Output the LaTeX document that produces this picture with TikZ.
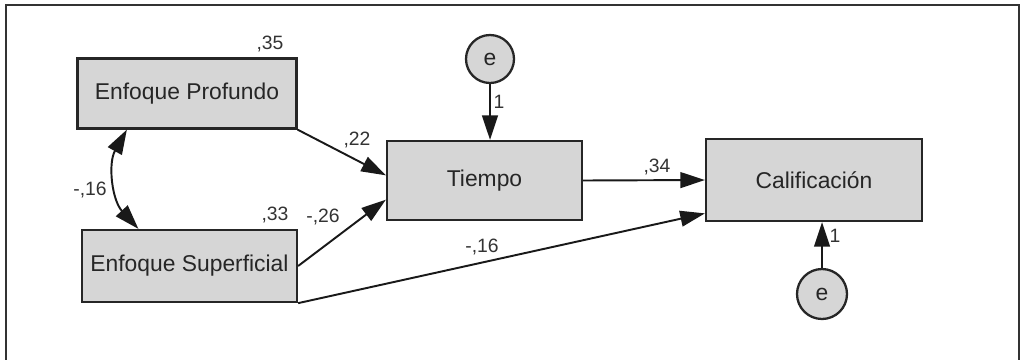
\documentclass[tikz,border=0pt]{standalone}
\usepackage{fontspec}
\setmainfont{Liberation Sans}
\usetikzlibrary{arrows.meta}

\tikzset{
  var/.style={draw=black!85, line width=1.3pt, fill=black!16, text=black!85, font=\fontsize{13}{15}\selectfont},
  err/.style={circle, draw=black!85, line width=1.3pt, fill=black!16, text=black!85, minimum size=0.96cm, inner sep=0pt, font=\fontsize{13}{15}\selectfont},
  tip/.tip={Triangle[length=14pt,width=9pt]},
  reg/.style={line width=1.1pt, draw=black!90, -tip},
  coef/.style={text=black!80, font=\fontsize{11}{13}\selectfont, inner sep=0pt}
}

\begin{document}
\begin{tikzpicture}[x=0.02cm, y=-0.02cm]
    \useasboundingbox (0,0) rectangle (1020,359);
    \draw[line width=1.1pt, black!80] (6,370) -- (6,5) -- (1019,5) -- (1019,370); % frame

    \node[var, minimum width=4.38cm, minimum height=1.40cm] (prof) at (187,93.5) {Enfoque Profundo};
    \node[var, minimum width=4.30cm, minimum height=1.44cm] (sup) at (189.5,266) {Enfoque Superficial};
    \node[var, minimum width=3.90cm, minimum height=1.58cm] (tiempo) at (484.5,180.5) {Tiempo};
    \node[var, minimum width=4.32cm, minimum height=1.64cm] (calif) at (814,180) {Calificación};
    \node[err] (e1) at (490,59) {e}; % error of Tiempo
    \node[err, minimum size=1.0cm] (e2) at (822,294) {e}; % error of Calificacion

    \draw[reg] (prof.south east) -- (tiempo.177); % profundo -> tiempo
    \draw[reg] (sup.east) -- (tiempo.191); % superficial -> tiempo
    \draw[reg] (sup.south east) -- (calif.197); % superficial -> calificacion
    \draw[reg] (tiempo.east) -- (calif.west); % tiempo -> calificacion
    \draw[reg] (e1.south) -- (e1.south |- tiempo.north); % error
    \draw[reg] (e2.north) -- (e2.north |- calif.south); % error
    \draw[reg, tip-tip] (sup.144) to[bend left=36] (prof.211); % covariance

    \node[coef] (r2prof) at (270,44) {,35};
    \node[coef] (r2sup) at (275,215) {,33};
    \node[coef] (b1) at (357,140) {,22};
    \node[coef] (b2) at (323,217) {-,26};
    \node[coef] (b3) at (482,247) {-,16};
    \node[coef] (b4) at (657,167) {,34};
    \node[coef] (cov) at (90,190) {-,16};
    \node[coef] (w1) at (499,102) {1};
    \node[coef] (w2) at (835,236) {1};
\end{tikzpicture}
\end{document}
